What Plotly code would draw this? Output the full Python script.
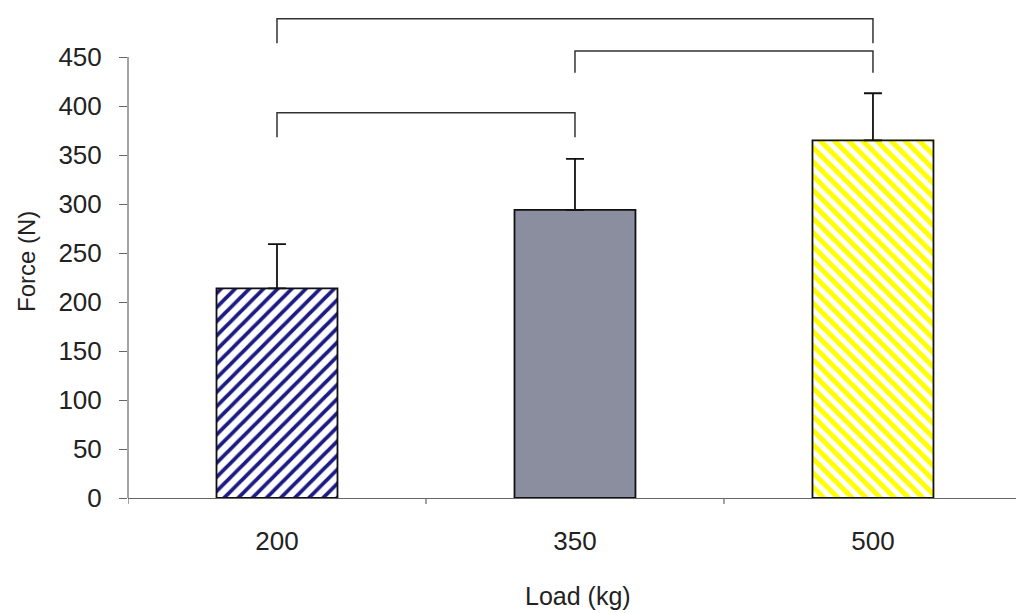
import plotly.graph_objects as go

# Data
loads = ["200", "350", "500"]
force = [214, 294, 365]
force_err = [45, 52, 48]
bar_colors = ["#ffffff", "#8b8e9e", "#ffffff"]
pattern_shapes = ["/", "", "\\"]
pattern_fg = ["#1c1c84", "#8b8e9e", "#ffff00"]
pattern_solidity = [0.38, 0.4, 0.5]

y_ticks = [0, 50, 100, 150, 200, 250, 300, 350, 400, 450]

# significance brackets: (start category index, end category index, top y, leg bottom y)
bracket_start = [0, 1, 0]
bracket_end = [2, 2, 1]
bracket_top = [489, 456, 393]
bracket_leg = [464, 434, 368]

fig = go.Figure()

for i in range(len(loads)):
    fig.add_trace(go.Bar(
        x=[i], y=[force[i]], width=0.406,
        marker=dict(
            color=bar_colors[i],
            line=dict(color="#111111", width=1.8),
            pattern=dict(shape=pattern_shapes[i], fgcolor=pattern_fg[i], bgcolor=bar_colors[i],
                         size=10, solidity=pattern_solidity[i], fillmode="replace", fgopacity=1),
        ),
        error_y=dict(type="data", array=[force_err[i]], arrayminus=[0], symmetric=False,
                     color="#111111", thickness=1.8, width=9),
        showlegend=False, hoverinfo="skip",
    ))

for s, e, top, leg in zip(bracket_start, bracket_end, bracket_top, bracket_leg):
    fig.add_trace(go.Scatter(
        x=[s, s, e, e], y=[leg, top, top, leg], mode="lines",
        line=dict(color="#333333", width=1.5), showlegend=False,
        hoverinfo="skip", cliponaxis=False,
    ))

# y axis line from 0 to 450 only
fig.add_shape(type="line", xref="x domain", yref="y", x0=0, x1=0, y0=0, y1=450,
              line=dict(color="#666666", width=1.2))

fig.add_annotation(text="Force (N)", xref="paper", yref="paper",
                   x=-128/888 + 26/888, y=(613-115-262)/498, textangle=-90,
                   showarrow=False, font=dict(size=24, color="#222222"),
                   xanchor="center", yanchor="middle")
fig.add_annotation(text="Load (kg)", xref="paper", yref="paper",
                   x=(578-128)/888, y=-(596-498)/498,
                   showarrow=False, font=dict(size=25, color="#222222"),
                   xanchor="center", yanchor="middle")

fig.update_layout(
    width=1016, height=613,
    margin=dict(l=128, r=0, t=0, b=115),
    paper_bgcolor="white", plot_bgcolor="white",
    barmode="overlay",
    font=dict(family="Liberation Sans, Arial, sans-serif", color="#222222"),
    xaxis=dict(
        range=[-0.5, 2.48], tickvals=[0, 1, 2], ticktext=loads,
        showgrid=False, zeroline=False, showline=True, linecolor="#666666", linewidth=1.2,
        ticks="", tickfont=dict(size=26), ticklabelstandoff=20,
    ),
    yaxis=dict(
        range=[0, 498/0.98], tickvals=y_ticks,
        showgrid=False, zeroline=False, showline=False,
        ticks="outside", ticklen=8, tickcolor="#666666", tickwidth=1.2,
        tickfont=dict(size=26), ticklabelstandoff=12,
    ),
)

# category boundary ticks on x axis
for xb in [-0.5, 0.5, 1.5]:
    fig.add_shape(type="line", xref="x", yref="paper", x0=xb, x1=xb, y0=0, y1=-6/498,
                  line=dict(color="#666666", width=1.2))

fig.write_html("out.html")
